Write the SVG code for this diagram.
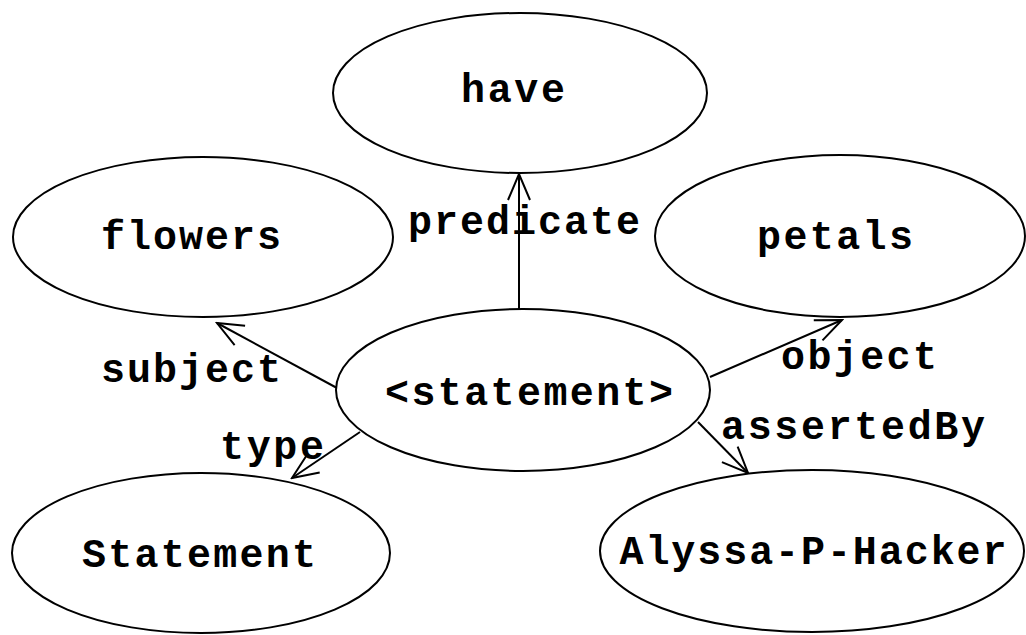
<svg xmlns="http://www.w3.org/2000/svg" width="1026" height="635" viewBox="0 0 1026 635">
<style>
.node ellipse{fill:#fff;stroke:#000;stroke-width:2}
text{font-family:"Liberation Mono","Courier New",monospace;font-weight:bold;font-size:40px;fill:#000;text-anchor:middle}
.edge line{stroke:#000;stroke-width:2;marker-end:url(#arr)}
</style>
<defs>
<marker id="arr" markerUnits="userSpaceOnUse" markerWidth="30" markerHeight="26" viewBox="0 0 30 26" refX="28" refY="13" orient="auto">
<path d="M2,2 L28,13 L2,24" fill="none" stroke="#000" stroke-width="2"/>
</marker>
</defs>
<rect width="1026" height="635" fill="#fff"/>
<g id="connectors" class="edge">
<line x1="519" y1="309" x2="519" y2="174"/>
<line x1="337" y1="388" x2="217" y2="323"/>
<line x1="710" y1="377" x2="842" y2="320"/>
<line x1="360" y1="432" x2="292" y2="478"/>
<line x1="698" y1="422" x2="748" y2="473"/>
</g>
<g id="node-have" class="node"><ellipse cx="520" cy="93" rx="187" ry="80"/><text x="513" y="102" textLength="104" lengthAdjust="spacing">have</text></g>
<g id="node-flowers" class="node"><ellipse cx="203" cy="237" rx="190" ry="80"/><text x="191" y="249" textLength="180" lengthAdjust="spacing">flowers</text></g>
<g id="node-petals" class="node"><ellipse cx="840" cy="236" rx="185" ry="81"/><text x="835" y="249" textLength="156" lengthAdjust="spacing">petals</text></g>
<g id="node-statement-res" class="node"><ellipse cx="523" cy="390" rx="187" ry="81"/><text x="529" y="405" textLength="288" lengthAdjust="spacing">&lt;statement&gt;</text></g>
<g id="node-Statement" class="node"><ellipse cx="201" cy="553" rx="189" ry="80"/><text x="199" y="567" textLength="234" lengthAdjust="spacing">Statement</text></g>
<g id="node-alyssa" class="node"><ellipse cx="812" cy="551" rx="212" ry="81"/><text x="813" y="564" textLength="387" lengthAdjust="spacing">Alyssa-P-Hacker</text></g>
<g id="labels">
<text x="524" y="234" textLength="232" lengthAdjust="spacing">predicate</text>
<text x="191" y="382" textLength="180" lengthAdjust="spacing">subject</text>
<text x="859" y="369" textLength="156" lengthAdjust="spacing">object</text>
<text x="853" y="439" textLength="264" lengthAdjust="spacing">assertedBy</text>
<text x="272" y="459" textLength="104" lengthAdjust="spacing">type</text>
</g>
</svg>
